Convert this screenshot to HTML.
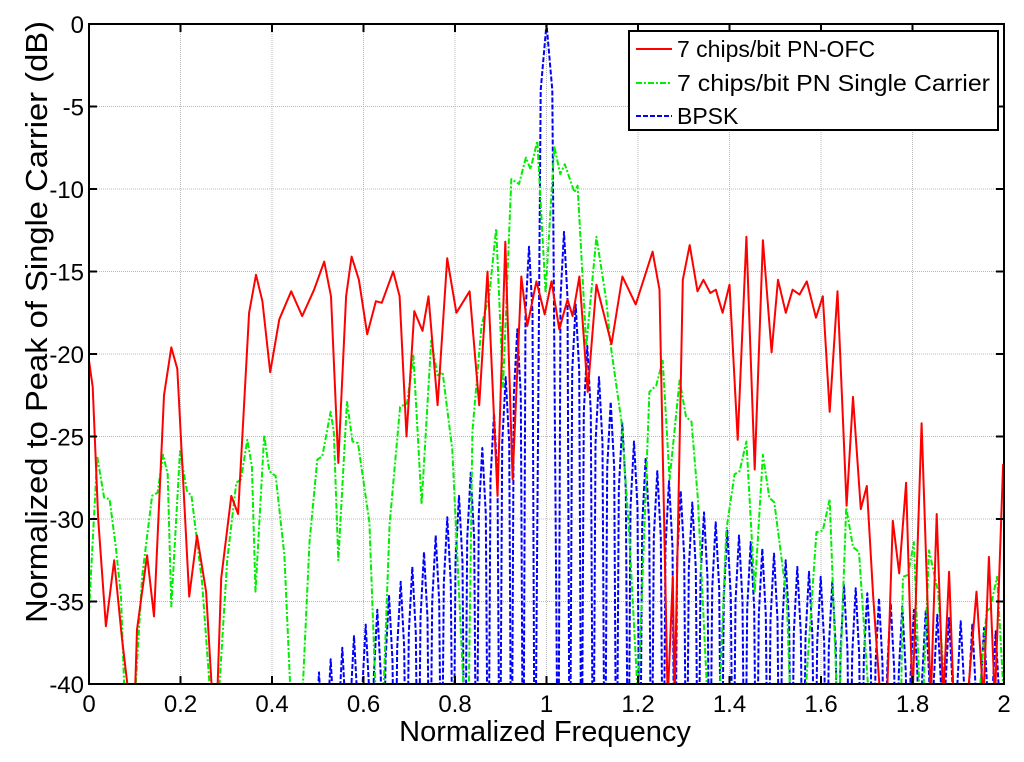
<!DOCTYPE html>
<html><head><meta charset="utf-8"><style>
html,body{margin:0;padding:0;background:#fff;overflow:hidden;width:1024px;height:762px;}
svg{display:block;}
svg text{font-family:"Liberation Sans",Arial,sans-serif;fill:#000;}
</style></head><body>
<svg id="chart" width="1024" height="762" viewBox="0 0 1024 762" xmlns="http://www.w3.org/2000/svg">
<defs><clipPath id="plotclip"><rect x="89" y="24" width="915" height="660"/></clipPath></defs>
<rect width="1024" height="762" fill="#fff"/>
<g id="grid"></g>
<g id="series" clip-path="url(#plotclip)"></g>
<rect x="89" y="24" width="915" height="660" fill="none" stroke="#000" stroke-width="2"/>
<g id="ticks"></g>
<text x="545" y="741" font-size="29" text-anchor="middle">Normalized Frequency</text>
<text transform="translate(47,322) rotate(-90)" font-size="31" text-anchor="middle" textLength="602" lengthAdjust="spacingAndGlyphs">Normalized to Peak of Single Carrier (dB)</text>
<g>
<rect x="629" y="31" width="369" height="99" fill="#fff" stroke="#000" stroke-width="2"/>
<g><line x1="636" y1="49" x2="672" y2="49" stroke="#ff0000" stroke-width="2"/><text x="677" y="57" font-size="23">7 chips/bit PN-OFC</text></g>
<g><line x1="636" y1="83" x2="672" y2="83" stroke="#00ee00" stroke-width="2" stroke-dasharray="6,2,2,2"/><text x="677" y="91" font-size="23" textLength="313" lengthAdjust="spacingAndGlyphs">7 chips/bit PN Single Carrier</text></g>
<g><line x1="636" y1="116" x2="672" y2="116" stroke="#0000ff" stroke-width="2" stroke-dasharray="5,2"/><text x="677" y="124" font-size="23">BPSK</text></g>
</g>
</svg>
<script>
const xTicks=[0,0.2,0.4,0.6,0.8,1,1.2,1.4,1.6,1.8,2];
const xTickLabels=["0","0.2","0.4","0.6","0.8","1","1.2","1.4","1.6","1.8","2"];
const yTicks=[0,-5,-10,-15,-20,-25,-30,-35,-40];
const yTickLabels=["0","-5","-10","-15","-20","-25","-30","-35","-40"];
const ofcX=[0,0.008,0.02,0.037,0.055,0.072,0.088,0.1,0.105,0.127,0.142,0.164,0.18,0.193,0.219,0.236,0.256,0.27,0.28,0.289,0.311,0.326,0.35,0.365,0.379,0.396,0.416,0.442,0.466,0.492,0.514,0.529,0.545,0.562,0.574,0.59,0.608,0.627,0.64,0.665,0.679,0.694,0.711,0.729,0.742,0.762,0.783,0.803,0.832,0.853,0.871,0.893,0.91,0.926,0.945,0.958,0.978,0.996,1.011,1.028,1.046,1.057,1.072,1.09,1.109,1.142,1.166,1.195,1.232,1.247,1.265,1.276,1.28,1.298,1.313,1.33,1.343,1.358,1.37,1.385,1.4,1.418,1.437,1.455,1.473,1.492,1.506,1.523,1.538,1.553,1.569,1.589,1.604,1.619,1.636,1.656,1.67,1.687,1.7,1.714,1.73,1.744,1.757,1.771,1.786,1.8,1.82,1.84,1.853,1.867,1.88,1.89,1.92,1.94,1.955,1.967,1.98,1.998,2];
const ofcY=[-20.4,-22,-30,-36.5,-32.5,-37.2,-41,-41,-36.7,-32.2,-35.9,-22.5,-19.6,-20.9,-34.7,-31,-34.4,-41,-41,-33.6,-28.6,-29.7,-17.5,-15.2,-16.8,-21.1,-17.9,-16.2,-17.7,-16.1,-14.4,-16.5,-26.6,-16.5,-14.1,-15.5,-18.8,-16.8,-16.9,-15,-16.5,-25,-17.4,-18.6,-16.5,-23.1,-14.2,-17.5,-16.2,-23.1,-15,-28.6,-13.2,-27.6,-15.3,-18.3,-15.6,-17.6,-15.6,-18.5,-16.7,-17.7,-15.3,-22.3,-15.8,-19.4,-15.3,-17,-13.8,-16.1,-41,-33.5,-41,-15.5,-13.4,-16.2,-15.5,-16.3,-16.1,-17.5,-15.8,-25.2,-12.9,-27,-13.1,-19.9,-15.5,-17.5,-16.1,-16.4,-15.6,-17.8,-16.5,-23.5,-16.2,-29.2,-22.6,-29.4,-28,-34.7,-41,-41,-30.1,-33.3,-27.8,-41,-24.2,-41,-29.7,-41,-33.2,-41,-41,-34.4,-41,-32.3,-41,-26.7,-28];
const pnX=[0,0.018,0.033,0.045,0.059,0.07,0.078,0.1,0.116,0.138,0.15,0.162,0.172,0.18,0.199,0.214,0.224,0.247,0.266,0.283,0.302,0.322,0.332,0.346,0.356,0.364,0.383,0.394,0.408,0.427,0.441,0.466,0.482,0.499,0.51,0.528,0.535,0.545,0.564,0.576,0.588,0.613,0.627,0.643,0.657,0.68,0.695,0.709,0.727,0.748,0.762,0.773,0.794,0.82,0.83,0.838,0.858,0.875,0.89,0.905,0.923,0.94,0.955,0.965,0.98,0.998,1.017,1.03,1.04,1.061,1.068,1.087,1.109,1.131,1.14,1.164,1.18,1.2,1.225,1.24,1.254,1.269,1.291,1.305,1.317,1.331,1.352,1.378,1.393,1.411,1.422,1.437,1.455,1.473,1.487,1.498,1.525,1.533,1.565,1.59,1.604,1.619,1.635,1.64,1.655,1.67,1.683,1.705,1.775,1.779,1.79,1.803,1.816,1.823,1.836,1.856,1.872,1.945,1.962,1.97,1.985,2];
const pnY=[-35.6,-26.2,-28.7,-28.8,-31.8,-34.7,-41,-41,-33.5,-28.6,-28.4,-26.1,-27.3,-35.3,-25.9,-28.3,-28.6,-33.8,-41,-41,-32.5,-27.8,-27.6,-25.2,-26.8,-34.4,-24.9,-27.1,-27.4,-32.2,-41,-41,-31.4,-26.4,-26.2,-23.5,-24.7,-32.5,-22.9,-25.3,-25.4,-30.2,-41,-41,-30.3,-23.2,-23,-20.1,-29.1,-19.2,-21.3,-21.1,-25.8,-41,-41,-24.7,-18.3,-16.4,-12.4,-22,-9.4,-9.7,-8.1,-8.8,-7.1,-16.3,-7.4,-9.1,-8.5,-10.2,-9.8,-19.5,-12.9,-16.8,-19.4,-24.1,-30.6,-41,-22.3,-21.9,-20.4,-27.6,-21.6,-23.8,-24.1,-28.8,-41,-41,-30.7,-27.3,-27.1,-25.3,-34.4,-26.1,-28.7,-29,-34.8,-41,-41,-30.8,-30.7,-28.8,-41,-41,-29.3,-31.7,-32,-41,-41,-33.5,-33.4,-31.4,-41,-41,-31.9,-34.4,-41,-41,-35.6,-35.4,-33.5,-41];
const bpskCenter=1.0;
const bpskNullSpacing=0.0255;
const bpskMainPeak=0;
const bpskLeftPeaks=[-13.5,-18.5,-21.4,-23.6,-25.7,-27.2,-28.6,-29.9,-31,-32,-32.9,-33.8,-34.6,-35.5,-36.4,-37.1,-37.8,-38.5,-39.3];
const bpskRightPeaks=[-12.6,-17,-19.5,-21.4,-22.9,-24.2,-25.3,-26.3,-27.1,-27.7,-28.3,-29,-29.6,-30.2,-30.7,-31,-31.4,-31.8,-32.1,-32.5,-32.9,-33.2,-33.5,-33.8,-34,-34.2,-34.5,-34.8,-35.1,-35.3,-35.5,-35.6,-35.8,-36,-36.2,-36.4,-36.6,-36.8];

const X0=89,X1=1004,Y0=24,Y1=684;
function sx(v){return X0+(v-0)/(2-0)*(X1-X0);}
function sy(v){return Y0+(0-v)/(0-(-40))*(Y1-Y0);}
const NS='http://www.w3.org/2000/svg';
function mk(tag,attrs,parent){const e=document.createElementNS(NS,tag);for(const k in attrs)e.setAttribute(k,attrs[k]);parent.appendChild(e);return e;}
const grid=document.getElementById('grid'),ticks=document.getElementById('ticks'),series=document.getElementById('series');
xTicks.forEach((t,i)=>{
  const g=mk('line',{x1:sx(t),x2:sx(t),y1:Y0,y2:Y1,stroke:'#b8b8b8','stroke-width':1,'stroke-dasharray':'1,1'},grid);
  
  
  mk('line',{x1:sx(t),x2:sx(t),y1:Y1,y2:Y1-8,stroke:'#000','stroke-width':2},ticks);
  mk('line',{x1:sx(t),x2:sx(t),y1:Y0,y2:Y0+8,stroke:'#000','stroke-width':2},ticks);
  const tx=mk('text',{x:sx(t),y:712,'font-size':24,'text-anchor':'middle'},ticks);
  tx.textContent=xTickLabels[i];
  
  
});
yTicks.forEach((t,i)=>{
  const g=mk('line',{x1:X0,x2:X1,y1:sy(t),y2:sy(t),stroke:'#b8b8b8','stroke-width':1,'stroke-dasharray':'1,1'},grid);
  
  
  mk('line',{x1:X0,x2:X0+8,y1:sy(t),y2:sy(t),stroke:'#000','stroke-width':2},ticks);
  mk('line',{x1:X1,x2:X1-8,y1:sy(t),y2:sy(t),stroke:'#000','stroke-width':2},ticks);
  const tx=mk('text',{x:84,y:sy(t)+9,'font-size':24,'text-anchor':'end'},ticks);
  tx.textContent=yTickLabels[i];
  
  
});
function pts(xs,ys){return xs.map((x,i)=>sx(x).toFixed(1)+','+sy(ys[i]).toFixed(1)).join(' ');}
const bx=[],by=[];
function lobe(a,b,peak){const m=(a+b)/2;bx.push(a,a+(b-a)*0.2,m,a+(b-a)*0.8);by.push(-50,peak-4,peak,peak-4);}
for(let k=bpskLeftPeaks.length-1;k>=0;k--){const a=bpskCenter-(k+2)*bpskNullSpacing,b=bpskCenter-(k+1)*bpskNullSpacing;lobe(a,b,bpskLeftPeaks[k]);}
bx.push(bpskCenter-bpskNullSpacing,bpskCenter-bpskNullSpacing*0.5,bpskCenter,bpskCenter+bpskNullSpacing*0.5);
by.push(-50,bpskMainPeak-4,bpskMainPeak,bpskMainPeak-4);
for(let k=0;k<bpskRightPeaks.length;k++){const a=bpskCenter+(k+1)*bpskNullSpacing,b=bpskCenter+(k+2)*bpskNullSpacing;lobe(a,b,bpskRightPeaks[k]);}
bx.push(bpskCenter+(bpskRightPeaks.length+1)*bpskNullSpacing);by.push(-50);
const l3=mk('polyline',{points:pts(bx,by),fill:'none',stroke:'#0000ff','stroke-width':2,'stroke-dasharray':'5,2','stroke-linejoin':'round'},series);


const l2=mk('polyline',{points:pts(pnX,pnY),fill:'none',stroke:'#00ee00','stroke-width':2,'stroke-dasharray':'6,2,2,2','stroke-linejoin':'round'},series);


const l1=mk('polyline',{points:pts(ofcX,ofcY),fill:'none',stroke:'#ff0000','stroke-width':2,'stroke-linejoin':'round'},series);


</script>
</body></html>
